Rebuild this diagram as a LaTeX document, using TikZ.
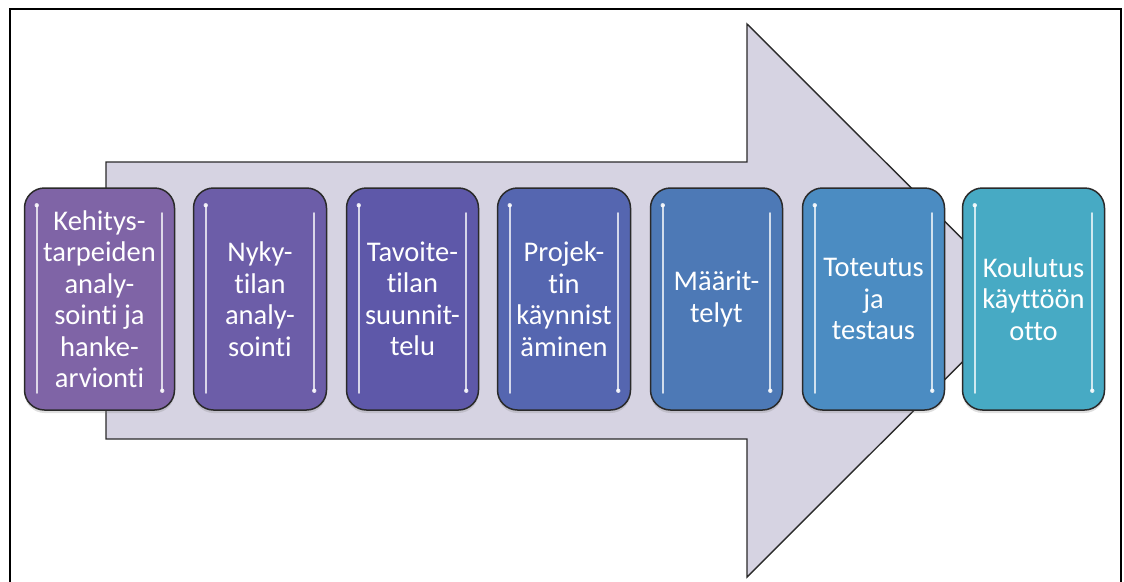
\documentclass[tikz,border=0pt]{standalone}
\usepackage{fontspec}
\setmainfont{Carlito}[Ligatures={NoCommon,NoContextual}, RawFeature={-liga;-clig;-calt;-dlig}]
\usetikzlibrary{calc,shadows}
\definecolor{arrowfill}{HTML}{D6D3E2}
\definecolor{edge}{HTML}{2A2A2A}
\definecolor{cA}{HTML}{7F64A6}
\definecolor{cB}{HTML}{6C5DA8}
\definecolor{cC}{HTML}{5E58A9}
\definecolor{cD}{HTML}{5566B0}
\definecolor{cE}{HTML}{4D79B6}
\definecolor{cF}{HTML}{4B8CC2}
\definecolor{cG}{HTML}{47AAC4}
\tikzset{
  phase/.style={draw=edge, line width=1.5pt, rounded corners=20pt,
    minimum height=222pt, inner sep=0pt, align=center, text=white,
    font=\fontsize{28.5}{31.5}\selectfont,
    drop shadow={shadow xshift=0pt, shadow yshift=-3pt, opacity=0.25}},
  gloss/.style={draw=white, line width=2.4pt, line cap=round, opacity=0.75},
  bigarrow/.style={fill=arrowfill, draw=edge, line width=1.4pt, line join=miter},
  frame/.style={draw=black, line width=1.6pt}
}
\begin{document}
\begin{tikzpicture}[x=1pt,y=-1pt]
\useasboundingbox (0,0) rectangle (1124,581);
\draw[frame] (10,583) -- (10,9) -- (1121,9) -- (1121,583);
\draw[bigarrow] (106,162) -- (747,162) -- (747,24) -- (1024,300.5) -- (747,577) -- (747,439) -- (106,439) -- cycle;
\node[phase, fill=cA, minimum width=150pt] (b1) at (99.5,299) {Kehitys-\\tarpeiden\\analy-\\sointi ja\\hanke-\\arvionti};
\node[phase, fill=cB, minimum width=133pt] (b2) at (260,299) {Nyky-\\tilan\\analy-\\sointi};
\node[phase, fill=cC, minimum width=132pt] (b3) at (412.5,299) {Tavoite-\\tilan\\suunnit-\\telu};
\node[phase, fill=cD, minimum width=133pt] (b4) at (564,299) {Projek-\\tin\\käynnist\\äminen};
\node[phase, fill=cE, minimum width=132pt] (b5) at (716.5,299) {Määrit-\\telyt};
\node[phase, fill=cF, minimum width=142pt] (b6) at (873.5,299) {Toteutus\\ja\\testaus};
\node[phase, fill=cG, minimum width=142pt] (b7) at (1033.5,299) {Koulutus\\käyttöön\\otto};
\foreach \b in {b1,b2,b3,b4,b5,b6,b7}{
  \draw[gloss] ($(\b.north west)+(13,18)$) -- ($(\b.south west)+(13,-18)$);
  \draw[gloss] ($(\b.north east)+(-13,26)$) -- ($(\b.south east)+(-13,-20)$);
  \fill[white, opacity=0.85] ($(\b.north west)+(13,18)$) circle (2.2pt);
  \fill[white, opacity=0.85] ($(\b.south east)+(-13,-20)$) circle (2.2pt);
}
\end{tikzpicture}
\end{document}
